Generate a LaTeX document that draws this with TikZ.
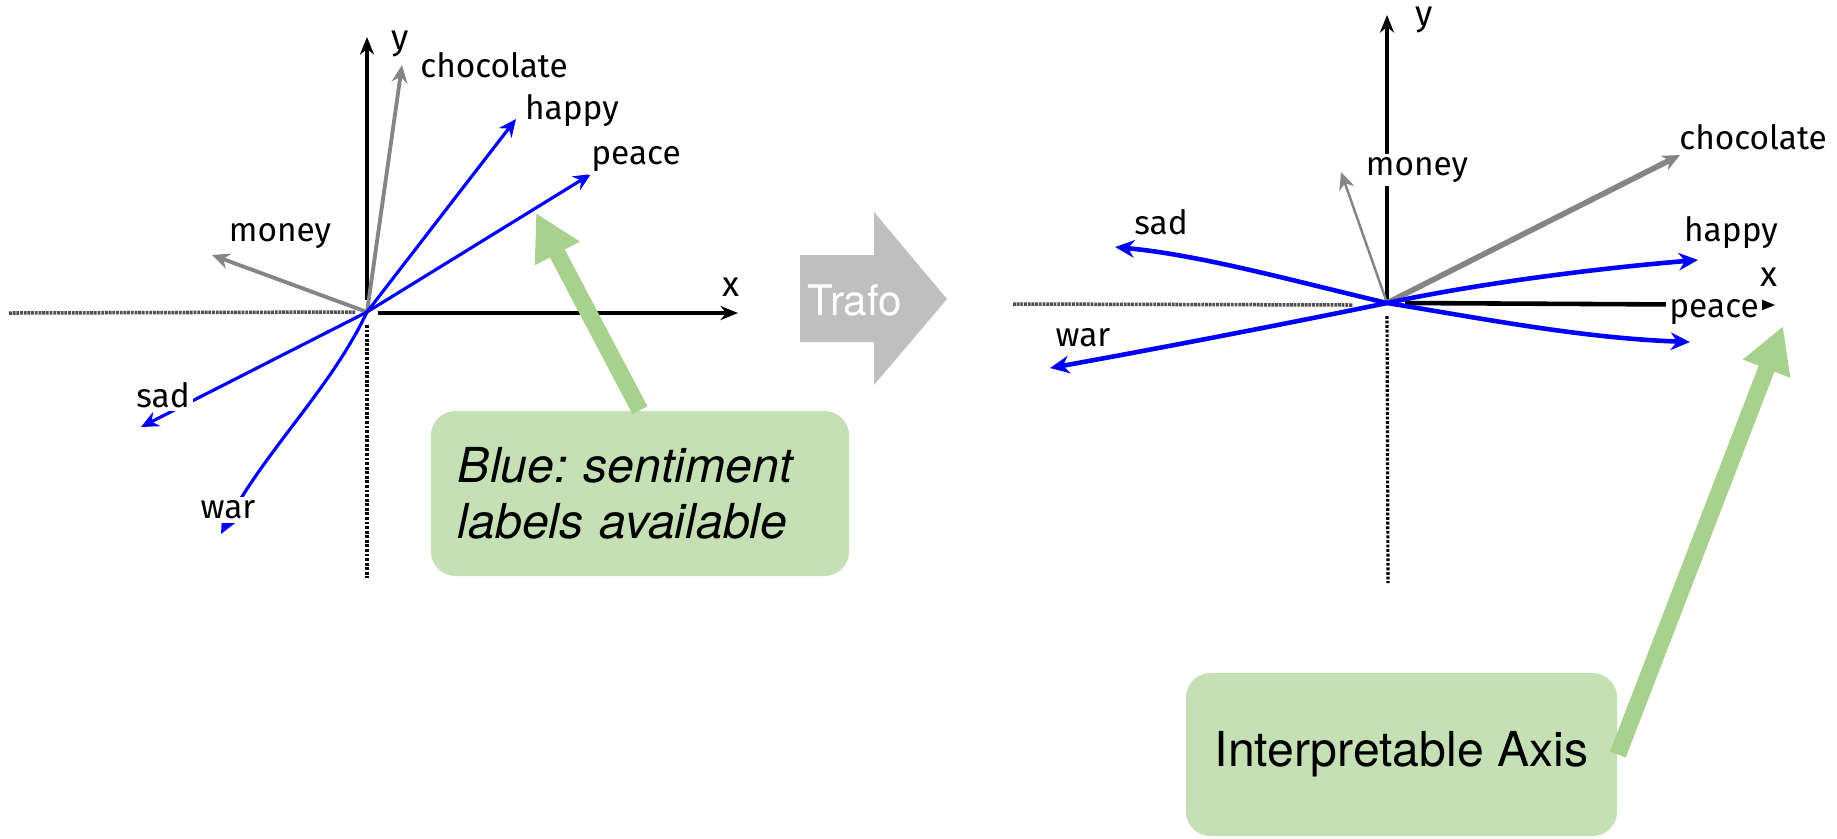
\documentclass[tikz,border=0pt]{standalone}
\usepackage{fontspec}
\setmainfont{TeX Gyre Heros}
\newfontfamily\handfont{Fira Sans}
\usetikzlibrary{arrows.meta}
\frenchspacing
\definecolor{boxgreen}{HTML}{C5E0B4}
\definecolor{pointgreen}{HTML}{A9D18E}
\definecolor{trafogray}{HTML}{BFBFBF}
\definecolor{vecgray}{HTML}{858585}
\definecolor{axisgray}{HTML}{505050}
\tikzset{
  word/.style={font=\handfont\fontsize{9.5}{11}\selectfont, inner sep=1pt, fill=white},
  axislabel/.style={font=\handfont\fontsize{10}{12}\selectfont, inner sep=1pt},
  bluevec/.style={draw=blue, line width=0.9pt, -{Stealth[length=5pt,width=4.5pt]}},
  bluevecR/.style={draw=blue, line width=1.3pt, -{Stealth[length=5.5pt,width=5pt]}},
  grayvec/.style={draw=vecgray, line width=1.1pt, -{Stealth[length=5pt,width=4.5pt]}},
  axisarrow/.style={draw=black, line width=0.9pt, -{Stealth[length=5pt,width=4pt]}},
  axisfaint/.style={draw=axisgray, line width=1pt, dash pattern=on 0.8pt off 0.25pt},
  axisdotted/.style={draw=black, line width=0.9pt, dash pattern=on 0.8pt off 0.5pt},
  callout/.style={fill=boxgreen, rounded corners=7pt, draw=none},
  pointer/.style={draw=pointgreen, line width=4.8pt, -{Triangle[length=13pt,width=13.5pt]}},
}
\begin{document}
\begin{tikzpicture}[x=0.01cm,y=-0.01cm]
\useasboundingbox (0,0) rectangle (1837,838);

% ---------------- left diagram ----------------
\coordinate (O1) at (367,312);
\coordinate (yTop1) at (367,37);
\coordinate (yBot1) at (367,578);
\coordinate (xLeft1) at (9,313);
\coordinate (xRight1) at (738,313);
\coordinate (xStartL1) at (356,312);
\coordinate (xStartR1) at (378,313);
\coordinate (yStartU1) at (367,300);
\coordinate (yStartD1) at (367,325);

\draw[axisfaint] (xLeft1) -- (xStartL1);
\draw[axisarrow, line width=1.1pt] (xStartR1) -- (xRight1);
\draw[axisarrow] (yStartU1) -- (yTop1);
\draw[axisdotted] (yStartD1) -- (yBot1);

\coordinate (choc1) at (402,65);
\coordinate (happy1) at (516,119);
\coordinate (peace1) at (591,174);
\coordinate (money1) at (212,255);
\coordinate (sad1) at (141,427);
\coordinate (war1) at (221,534);

\draw[grayvec] (O1) -- (choc1);
\draw[grayvec] (O1) -- (money1);
\draw[bluevec] (O1) -- (happy1);
\draw[bluevec] (O1) -- (peace1);
\draw[bluevec] (O1) -- (sad1);
\draw[bluevec] (O1) .. controls (330,390) and (265,450) .. (war1);

\node[axislabel] (ylab1) at (400,44) {y};
\node[axislabel] (xlab1) at (731,287) {x};
\node[word] (lchoc1) at (494,65) {chocolate};
\node[word] (lhappy1) at (572,111) {happy};
\node[word] (lpeace1) at (636,159) {peace};
\node[word] (lmoney1) at (280,236) {money};
\node[word] (lsad1) at (163,395) {sad};
\node[word] (lwar1) at (228,510) {war};

% callout 1
\node[callout, minimum width=4.18cm, minimum height=1.65cm, text width=3.64cm,
      align=left, inner xsep=0.27cm,
      font=\itshape\fontsize{13.7}{15.9}\selectfont] (box1) at (640,493.5)
      {Blue: sentiment\\labels available};
\coordinate (tip1) at (536,213);
\draw[pointer] (box1.north) -- (tip1);

% ---------------- Trafo arrow ----------------
\fill[trafogray] (800,255) -- (874,255) -- (874,212) -- (947,299) -- (874,385)
  -- (874,342) -- (800,342) -- cycle;
\node[text=white, font=\fontsize{12}{14}\selectfont, inner sep=0pt] (trafo) at (855,300) {Trafo};

% ---------------- right diagram ----------------
\coordinate (O2) at (1387,303);
\coordinate (yTop2) at (1387,15);
\coordinate (yBot2) at (1388,583);
\coordinate (xLeft2) at (1013,304);
\coordinate (xEndL2) at (1353,305);
\coordinate (xStartR2) at (1405,303);
\coordinate (xRight2) at (1775,305);
\coordinate (yStartD2) at (1387,316);

\draw[axisfaint] (xLeft2) -- (xEndL2);
\draw[axisarrow, line width=1.3pt] (xStartR2) -- (xRight2);
\draw[axisarrow] (O2) -- (yTop2);
\draw[axisdotted] (yStartD2) -- (yBot2);

\coordinate (choc2) at (1680,155);
\coordinate (money2) at (1341,172);
\coordinate (sad2) at (1115,247);
\coordinate (happy2) at (1698,260);
\coordinate (peace2) at (1690,342);
\coordinate (war2) at (1050,368);

\draw[grayvec, line width=1.6pt] (O2) -- (choc2);
\draw[grayvec, line width=0.7pt] (O2) -- (money2);
\draw[bluevecR] (O2) .. controls (1290,280) and (1200,255) .. (sad2);
\draw[bluevecR] (O2) .. controls (1480,283) and (1600,268) .. (happy2);
\draw[bluevecR] (O2) .. controls (1480,318) and (1580,338) .. (peace2);
\draw[bluevecR] (O2) .. controls (1280,325) and (1150,350) .. (war2);

\node[axislabel] (ylab2) at (1424,20) {y};
\node[axislabel] (xlab2) at (1769,277) {x};
\node[word] (lchoc2) at (1753,137) {chocolate};
\node[word] (lmoney2) at (1417,170) {money};
\node[word] (lsad2) at (1161,222) {sad};
\node[word] (lhappy2) at (1731,233) {happy};
\node[word] (lpeace2) at (1714,312) {peace};
\node[word] (lwar2) at (1083,338) {war};

% callout 2
\node[callout, minimum width=4.31cm, minimum height=1.63cm,
      font=\fontsize{13.7}{15.9}\selectfont] (box2) at (1401.5,754.5)
      {Interpretable Axis};
\coordinate (tip2) at (1783,326);
\draw[pointer] (box2.east) -- (tip2);
\end{tikzpicture}
\end{document}
